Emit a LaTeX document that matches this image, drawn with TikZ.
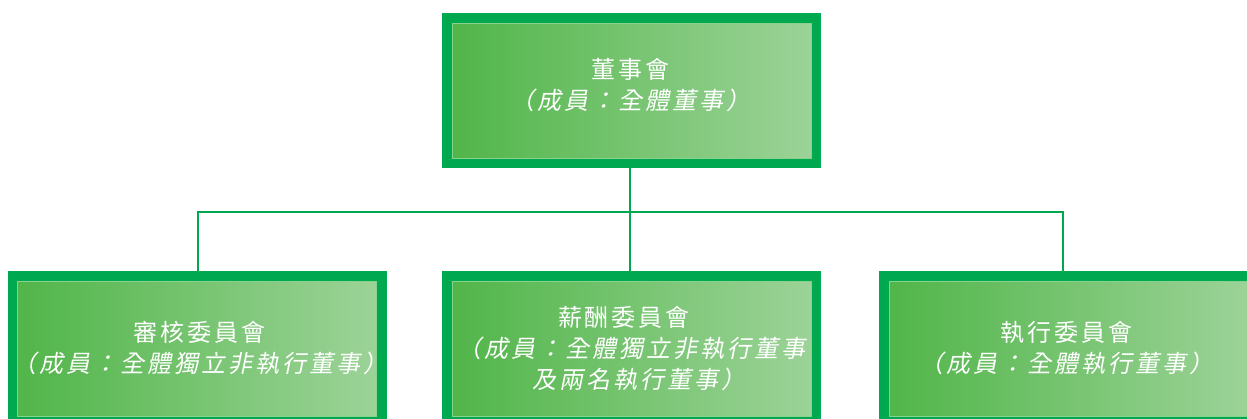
\documentclass[tikz,border=0pt]{standalone}
\usepackage{fontspec}
\newfontfamily\cjk{Noto Sans CJK TC}
\newfontfamily\cjkit[FakeSlant=0.2]{Noto Sans CJK TC}
\definecolor{bordergreen}{RGB}{0,169,79}
\definecolor{gradleft}{RGB}{80,181,72}
\definecolor{gradright}{RGB}{157,211,153}
\definecolor{rimgreen}{RGB}{135,210,140}
\tikzset{
  orgbox/.style={draw=bordergreen, line width=10pt, left color=gradleft, right color=gradright,
    minimum width=369pt, minimum height=145pt, inner sep=0pt, outer sep=0pt},
  rim/.style={draw=rimgreen, line width=0.8pt},
  boxtext/.style={text=white, align=center, font=\fontsize{24}{31}\selectfont\cjk, inner sep=0pt},
  conn/.style={draw=bordergreen, line width=1.3pt}
}
\def\lspc#1{\ifx#1\relax\unskip\else#1\hspace{3pt}\expandafter\lspc\fi}
\newcommand{\itl}[1]{{\cjkit\lspc#1\relax}}
\newcommand{\up}[1]{\lspc#1\relax}
\begin{document}
\begin{tikzpicture}[x=1pt,y=-1pt]
\useasboundingbox (0,0) rectangle (1247,419);
\begin{scope}
\clip (0,0) rectangle (1247,419);
% boxes
\node[orgbox] (top) at (631.5,90.5) {};
\node[orgbox] (left) at (197,348.5) {};
\node[orgbox] (mid) at (631.5,348.5) {};
\node[orgbox] (right) at (1068.5,348.5) {};
\foreach \b in {top,left,mid,right}{
  \draw[rim] ([xshift=5pt,yshift=-5pt]\b.north west) rectangle ([xshift=-5pt,yshift=5pt]\b.south east);
}
% texts
\node[boxtext] (toptext) at (630.5,85.5) {\up{董事會}\\\itl{（成員：全體董事）}};
\node[boxtext] (lefttext) at (200,348) {\up{審核委員會}\\\itl{（成員：全體獨立非執行董事）}};
\node[boxtext] (midtext) at (631.5,349) {\up{薪酬委員會}\hspace*{15pt}\\\itl{（成員：全體獨立非執行董事}\hspace*{28pt}\\\hspace*{14pt}\itl{及兩名執行董事）}};
\node[boxtext] (righttext) at (1066,348) {\up{執行委員會}\\\itl{（成員：全體執行董事）}};
% connectors
\coordinate (bus) at (0,212);
\coordinate (lj) at ([xshift=1pt,yshift=5pt]left.north);
\coordinate (rj) at ([xshift=-5.5pt,yshift=5pt]right.north);
\coordinate (tj) at ([xshift=-1.5pt,yshift=-5pt]top.south);
\coordinate (mj) at ([xshift=-1.5pt,yshift=5pt]mid.north);
\draw[conn] (tj) -- (tj |- bus);
\draw[conn] (lj) |- (bus -| rj) -- (rj);
\draw[conn] (tj |- bus) -- (mj);
\end{scope}
\end{tikzpicture}
\end{document}
